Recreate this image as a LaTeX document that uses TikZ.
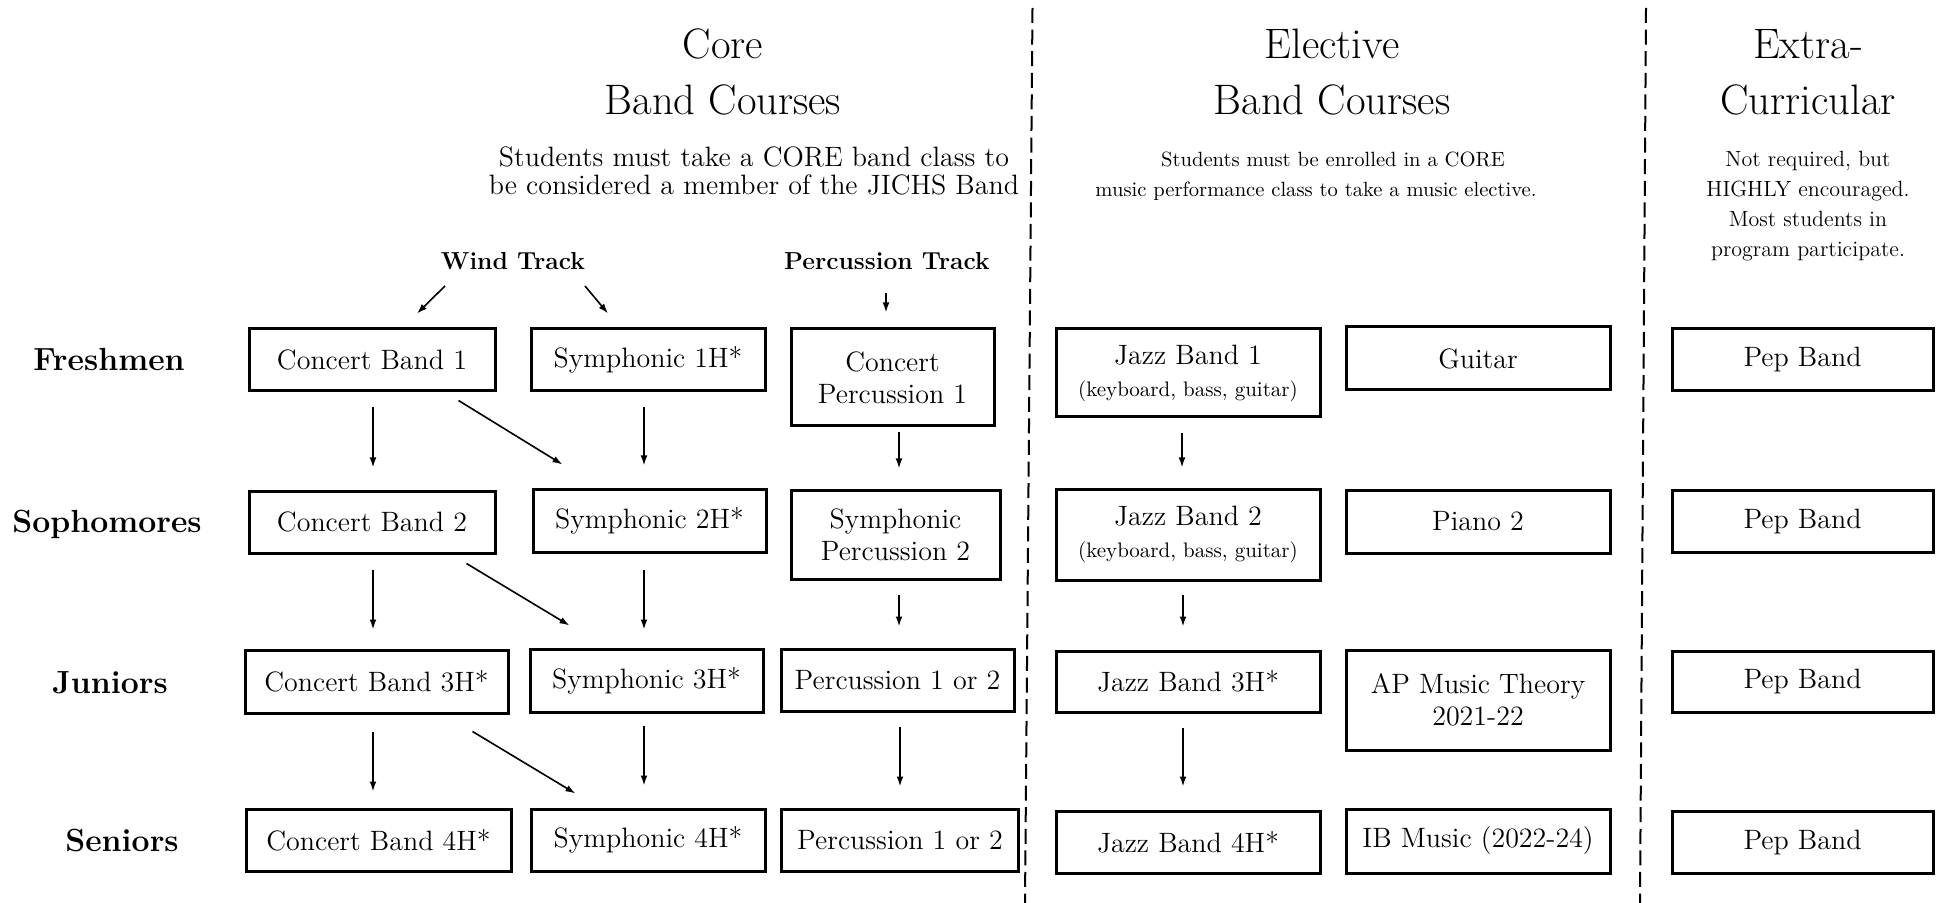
\documentclass[tikz,border=0pt]{standalone}
\usetikzlibrary{arrows.meta,calc}
\begin{document}
\begin{tikzpicture}[x=0.5pt,y=-0.5pt,
  box/.style={draw,line width=1.5pt,inner sep=1pt,align=center,font=\fontsize{14}{16}\selectfont},
  arr/.style={line width=0.8pt,-{Latex[length=5pt,width=3.4pt]}},
  sepline/.style={line width=1pt,dash pattern=on 7.5pt off 3.3pt},
  rowlab/.style={font=\fontsize{16}{19}\selectfont\bfseries,anchor=base,inner sep=0pt},
  track/.style={font=\fontsize{12.3}{14}\selectfont\bfseries,inner sep=0pt},
  coltitle/.style={font=\fontsize{21.3}{28}\selectfont,align=center,inner sep=0pt},
  subtxt/.style={align=center,inner sep=0pt}
]
\useasboundingbox (0,0) rectangle (1938,903);

% separators
\draw[sepline] (1032.5,8) -- (1025,903);
\draw[sepline] (1646,8) -- (1640,903);

% column titles
\node[coltitle] (tcore) at (723,72) {Core\\Band Courses};
\node[coltitle] (telec) at (1332,72) {Elective\\Band Courses};
\node[coltitle] (textra) at (1808,72) {Extra-\\Curricular};

\node[subtxt,font=\fontsize{14}{14}\selectfont] (score) at (754,171) {Students must take a CORE band class to\\be considered a member of the JICHS Band};
\node[subtxt,font=\fontsize{10.3}{15}\selectfont] (selec) at (1316,176.5) {\hspace*{17pt}Students must be enrolled in a CORE\\music performance class to take a music elective.};
\node[subtxt,font=\fontsize{11}{15}\selectfont] (sextra) at (1808,206.5) {Not required, but\\HIGHLY encouraged.\\Most students in\\program participate.};

% tracks
\node[track] (WT) at (513,261) {Wind Track};
\node[track] (PT) at (887,261) {Percussion Track};

% row labels
\node[rowlab] (fr) at (109,371) {Freshmen};
\node[rowlab] (so) at (107,532) {Sophomores};
\node[rowlab] (ju) at (110,693) {Juniors};
\node[rowlab] (se) at (122,851) {Seniors};

% row 1
\node[box,minimum width=123pt,minimum height=31pt] (CB1) at (372,360) {Concert Band 1};
\node[box,minimum width=117pt,minimum height=31pt] (S1) at (648,360) {Symphonic 1H*};
\node[box,minimum width=101.5pt,minimum height=48.5pt] (CP1) at (892.5,377.5) {Concert\\Percussion 1};
\node[box,minimum width=132pt,minimum height=44pt] (J1) at (1188,373) {Jazz Band 1\\{\fontsize{10.5}{12}\selectfont (keyboard, bass, guitar)}};
\node[box,minimum width=132pt,minimum height=31.5pt] (G) at (1478,358.5) {Guitar};
\node[box,minimum width=130.5pt,minimum height=31pt] (P1) at (1802.5,360) {Pep Band};

% row 2
\node[box,minimum width=123pt,minimum height=31pt] (CB2) at (372,522) {Concert Band 2};
\node[box,minimum width=116.5pt,minimum height=31.5pt] (S2) at (649.5,520.5) {Symphonic 2H*};
\node[box,minimum width=104.5pt,minimum height=44.5pt] (SP2) at (895.5,534.5) {Symphonic\\Percussion 2};
\node[box,minimum width=132pt,minimum height=45.5pt] (J2) at (1188,534.5) {Jazz Band 2\\{\fontsize{10.5}{12}\selectfont (keyboard, bass, guitar)}};
\node[box,minimum width=132pt,minimum height=31.5pt] (Pi) at (1478,521.5) {Piano 2};
\node[box,minimum width=130.5pt,minimum height=31pt] (P2) at (1802.5,521) {Pep Band};

% row 3
\node[box,minimum width=131.5pt,minimum height=31.5pt] (CB3) at (376.5,681.5) {Concert Band 3H*};
\node[box,minimum width=116.5pt,minimum height=31.5pt] (S3) at (646.5,680.5) {Symphonic 3H*};
\node[box,minimum width=116.5pt,minimum height=31pt] (PC3) at (897.5,680) {Percussion 1 or 2};
\node[box,minimum width=132pt,minimum height=30.5pt] (J3) at (1188,681.5) {Jazz Band 3H*};
\node[box,minimum width=132pt,minimum height=50pt] (AP) at (1478,700) {AP Music Theory\\2021-22};
\node[box,minimum width=130.5pt,minimum height=30.5pt] (P3) at (1802.5,681.5) {Pep Band};

% row 4
\node[box,minimum width=132.5pt,minimum height=31pt] (CB4) at (378.5,840) {Concert Band 4H*};
\node[box,minimum width=117pt,minimum height=31pt] (S4) at (648,840) {Symphonic 4H*};
\node[box,minimum width=118.5pt,minimum height=31pt] (PC4) at (900,840) {Percussion 1 or 2};
\node[box,minimum width=132pt,minimum height=31pt] (J4) at (1188,842) {Jazz Band 4H*};
\node[box,minimum width=132pt,minimum height=32pt] (IB) at (1478,841) {IB Music (2022-24)};
\node[box,minimum width=130.5pt,minimum height=31pt] (P4) at (1802.5,842) {Pep Band};

% track arrows
\draw[arr] ($(WT.center)+(-68,25)$) -- ($(CB1.north)+(45,-14)$);
\draw[arr] ($(WT.center)+(72,25)$) -- ($(S1.north)+(-40,-14)$);
\draw[arr] ($(PT.center)+(-1,32)$) -- ($(PT.center |- CP1.north)+(-1,-15)$);

% vertical arrows row1 -> row2
\draw[arr] ($(CB1.south)+(1,15)$) -- ($(CB1.south |- CB2.north)+(1,-22)$);
\draw[arr] ($(S1.south)+(-4,15)$) -- ($(S1.south |- S2.north)+(-4,-22)$);
\draw[arr] ($(CP1.south)+(6.5,5)$) -- ($(CP1.south |- SP2.north)+(6.5,-20)$);
\draw[arr] ($(J1.south)+(-6,15)$) -- ($(J1.south |- J2.north)+(-6,-20)$);
% row2 -> row3
\draw[arr] ($(CB2.south)+(1,15)$) -- ($(CB2.south |- CB3.north)+(1,-19)$);
\draw[arr] ($(S2.south)+(-5.5,16)$) -- ($(S2.south |- S3.north)+(-5.5,-18)$);
\draw[arr] ($(SP2.south)+(3.5,14)$) -- ($(SP2.south |- PC3.north)+(3.5,-21)$);
\draw[arr] ($(J2.south)+(-5,13)$) -- ($(J2.south |- J3.north)+(-5,-23)$);
% row3 -> row4
\draw[arr] ($(CB3.south)+(-3.5,17)$) -- ($(CB3.south |- CB4.north)+(-3.5,-16)$);
\draw[arr] ($(S3.south)+(-2.5,12)$) -- ($(S3.south |- S4.north)+(-2.5,-22)$);
\draw[arr] ($(PC3.south)+(2.5,14)$) -- ($(PC3.south |- PC4.north)+(2.5,-21)$);
\draw[arr] ($(J3.south)+(-5,14)$) -- ($(J3.south |- J4.north)+(-5,-23)$);

% diagonal arrows
\draw[arr] ($(CB1.south east)+(-38,8)$) -- ($(S2.north west)+(31,-23)$);
\draw[arr] ($(CB2.south east)+(-30,9)$) -- ($(S3.north west)+(41,-22)$);
\draw[arr] ($(CB3.south east)+(-37,17)$) -- ($(S4.north west)+(46,-14)$);
\end{tikzpicture}
\end{document}
